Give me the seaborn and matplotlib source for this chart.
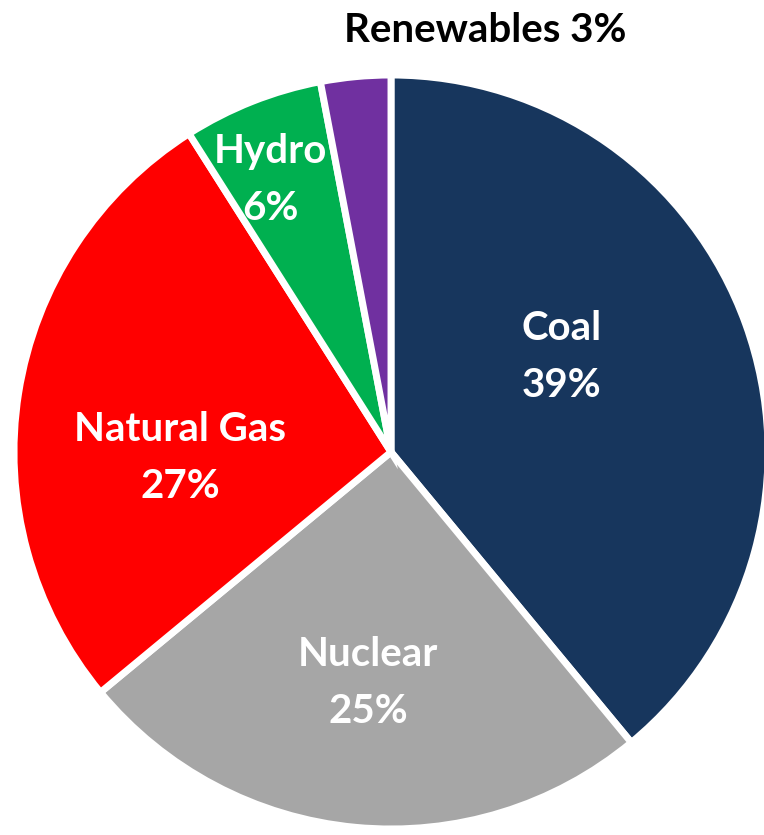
import matplotlib
matplotlib.use("Agg")
import matplotlib.pyplot as plt
import seaborn as sns

# electricity generation share
sources = ["Coal", "Nuclear", "Natural Gas", "Hydro", "Renewables"]
shares = [39, 25, 27, 6, 3]
colors = ["#17365D", "#A6A6A6", "#FF0000", "#00B050", "#7030A0"]

sns.set_style("white")
plt.rcParams["font.family"] = ["Lato", "DejaVu Sans"]

W, H = 764, 835
cx, cy, R = 391, 452, 377  # pie centre / radius in pixels

fig = plt.figure(figsize=(W / 100, H / 100), dpi=100)
ax = fig.add_axes([0, 0, 1, 1])
ax.pie(
    shares,
    colors=colors,
    startangle=90,
    counterclock=False,
    radius=1,
    wedgeprops=dict(edgecolor="white", linewidth=5),
)
ax.set_xlim(-cx / R, (W - cx) / R)
ax.set_ylim(-(H - cy) / R, cy / R)
ax.set_aspect("auto")
ax.axis("off")


def px(x, y):
    return (x - cx) / R, (cy - y) / R


# label positions (pixel centres from the reference)
label_pos = {
    "Coal": (562, 357),
    "Nuclear": (368, 683),
    "Natural Gas": (180, 458),
    "Hydro": (270, 180),
}
for name, share in zip(sources, shares):
    if name in label_pos:
        x, y = px(*label_pos[name])
        ax.text(x, y, f"{name}\n{share}%", ha="center", va="center",
                color="white", fontsize=29, fontweight="bold", linespacing=1.65)

x, y = px(485, 30)
ax.text(x, y, f"{sources[4]} {shares[4]}%", ha="center", va="center",
        color="black", fontsize=29, fontweight="bold")

fig.savefig("out.png", dpi=100)
